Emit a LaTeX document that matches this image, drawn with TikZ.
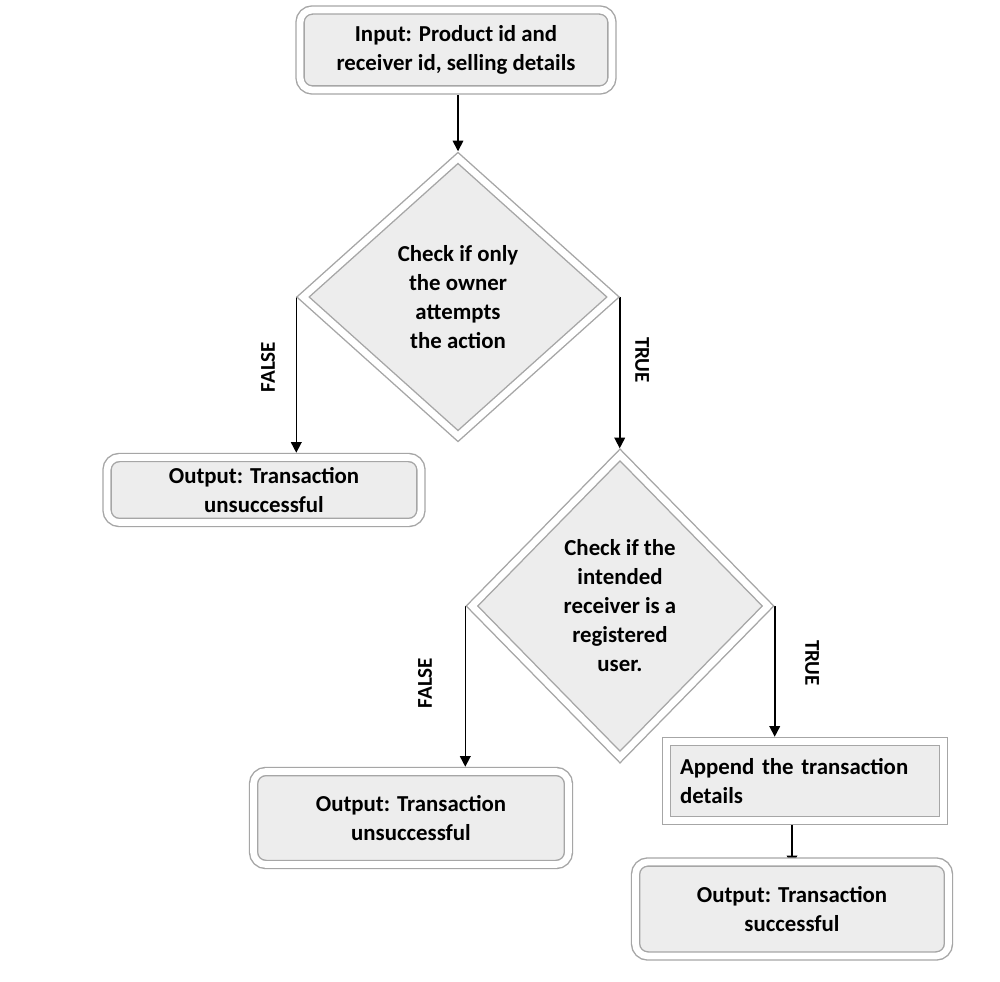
\documentclass[tikz,border=0pt]{standalone}
\usepackage{fontspec}
\setmainfont{Carlito}
\usetikzlibrary{shapes.geometric,shadows,arrows.meta,backgrounds}
\begin{document}
\begin{tikzpicture}[x=0.02cm,y=-0.02cm,
  font=\fontsize{13}{16.5}\selectfont\bfseries,
  frame/.style={draw=gray!70, line width=0.8pt, double=white, double distance=3.8pt,
    fill=gray!14, outer sep=2.7pt,
    drop shadow={shadow xshift=0.9pt, shadow yshift=-1.8pt, opacity=0.45}},
  rbox/.style={frame, rectangle, rounded corners=7pt, align=center, inner sep=2pt},
  sbox/.style={frame, rectangle, align=left, inner sep=2pt},
  dec/.style={frame, diamond, align=center, inner sep=0pt},
  conn/.style={line width=0.9pt, -{Triangle[width=6pt,length=6pt]}},
  lbl/.style={font=\fontsize{12}{14}\selectfont\bfseries}
]
\useasboundingbox (0,0) rectangle (1000,982);

\node[rbox, minimum width=6.24cm, minimum height=1.6cm] (in) at (456,50)
  {Input: Product id and\\receiver id, selling details};
\node[dec, minimum width=6.28cm, minimum height=5.64cm] (d1) at (458,297)
  {Check if only\\the owner\\attempts\\the action};
\node[rbox, minimum width=6.28cm, minimum height=1.3cm] (o1) at (264,490)
  {Output: Transaction\\unsuccessful};
\node[dec, minimum width=6.0cm, minimum height=6.12cm] (d2) at (620,606)
  {Check if the\\intended\\receiver is a\\registered\\user.};
\node[rbox, minimum width=6.3cm, minimum height=1.86cm] (o2) at (411,818)
  {Output: Transaction\\unsuccessful};
\node[sbox, minimum width=5.54cm, minimum height=1.58cm, text width=5.0cm] (app) at (805,781)
  {Append the transaction\\details};
\node[rbox, minimum width=6.26cm, minimum height=1.88cm] (o3) at (792,909)
  {Output: Transaction\\successful};

\node[lbl, rotate=90] (f1) at (268,367) {FALSE};
\node[lbl, rotate=-90] (t1) at (642,360) {TRUE};
\node[lbl, rotate=90] (f2) at (425,683) {FALSE};
\node[lbl, rotate=-90] (t2) at (812,663) {TRUE};

\begin{scope}[on background layer]
  \fill[white] (0,0) rectangle (1000,982);
  \draw[conn] (in.south -| d1.north) -- (d1.north);
  \draw[conn] (d1.west) -- (d1.west |- o1.north);
  \draw[conn] (d1.east) -- (d1.east |- d2.north);
  \draw[conn] (d2.west) -- (d2.west |- o2.north);
  \draw[conn] (d2.east) -- (d2.east |- app.north);
  \draw[conn] (app.south -| o3.north) -- ([yshift=-5pt]o3.north);
\end{scope}
\end{tikzpicture}
\end{document}
